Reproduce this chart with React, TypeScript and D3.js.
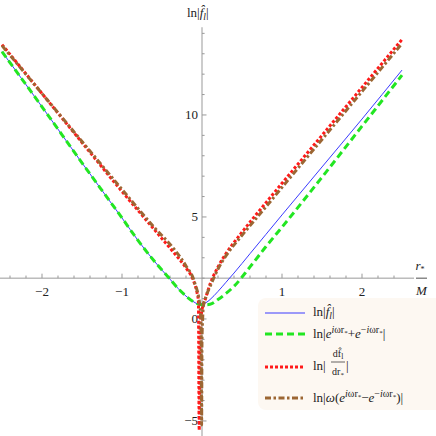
import React from "react";
import * as d3 from "d3";

const W = 436;
const H = 436;

// r*/M grid for ln|f_l| and ln|e^{iωr}+e^{-iωr}|
const rGrid = [-2.5, -2, -1.5, -1, -0.8, -0.6, -0.4, -0.3, -0.2, -0.1, -0.05, 0, 0.05, 0.1, 0.2, 0.3, 0.4, 0.6, 0.8, 1, 1.5, 2, 2.5];
const lnF = [13.1, 10.4, 7.65, 4.95, 3.85, 2.85, 1.95, 1.5, 1.12, 0.83, 0.74, 0.74, 0.8, 0.95, 1.35, 1.8, 2.25, 3.2, 4.15, 5.1, 7.45, 9.8, 12.2];
const lnCos = [13.1, 10.4, 7.65, 4.95, 3.85, 2.85, 1.95, 1.5, 1.12, 0.83, 0.74, 0.7, 0.7, 0.72, 0.95, 1.25, 1.6, 2.55, 3.55, 4.5, 6.95, 9.45, 11.95];

// ln|df/dr*|
const rRed = [-2.5, -2, -1.5, -1, -0.6, -0.38, -0.2, -0.11, -0.06, -0.045, -0.035, -0.025, -0.01, 0.0, 0.04, 0.1, 0.2, 0.3, 0.5, 0.8, 1, 1.5, 2, 2.5];
const lnDf = [13.45, 11.05, 8.65, 6.25, 4.4, 3.38, 2.5, 1.91, 1.25, 0.9, -5.45, -0.4, 0.2, 0.45, 0.95, 1.7, 2.55, 3.2, 4.25, 5.7, 6.65, 9.0, 11.35, 13.7];

// ln|ω(e^{iωr}-e^{-iωr})|
const rBrown = [-2.5, -2, -1.5, -1, -0.6, -0.34, -0.2, -0.09, -0.025, -0.012, -0.005, 0.0, 0.008, 0.016, 0.05, 0.1, 0.2, 0.3, 0.5, 0.8, 1, 1.5, 2, 2.5];
const lnSin = [13.4, 11.05, 8.7, 6.35, 4.5, 3.38, 2.6, 1.76, 0.59, -0.5, -5.2, -1.0, 0.0, 0.6, 1.1, 1.58, 2.45, 3.1, 4.1, 5.5, 6.45, 8.8, 11.15, 13.5];

const xMajor = [-2, -1, 1, 2];
const yMajor = [-5, 0, 5, 10];
const xMinor = [-2.4, -2.2, -1.8, -1.6, -1.4, -1.2, -0.8, -0.6, -0.4, -0.2, 0.2, 0.4, 0.6, 0.8, 1.2, 1.4, 1.6, 1.8, 2.2, 2.4];
const yMinor = [-4, -3, -2, -1, 1, 2, 3, 4, 6, 7, 8, 9, 11, 12, 13, 14];

const BLUE = "#3a3aff";
const GREEN = "#22e622";
const RED = "#ff1a1a";
const BROWN = "#9c6633";
const AXIS = "#999999";
const FONT = "Liberation Serif, Times New Roman, DejaVu Serif, serif";
const TXT: React.CSSProperties = { fontFamily: FONT };

export default function App() {
  const x = d3.scaleLinear().domain([-2.5, 2.5]).range([2, 402]);
  const y = d3.scaleLinear().domain([-5.6, 14.3]).range([433.2, 27.24]);
  const line = d3
    .line<[number, number]>()
    .x((d) => x(d[0]))
    .y((d) => y(d[1]))
    .curve(d3.curveMonotoneX);

  const zip = (a: number[], b: number[]) => a.map((v, i) => [v, b[i]] as [number, number]);

  const y0 = y(2);
  const x0 = x(0);

  return (
    <svg width={W} height={H} style={{ position: "absolute", left: 0, top: 0, background: "#fff", fontFamily: FONT }}>
      {/* axes */}
      <line x1={0} x2={414} y1={y0} y2={y0} stroke={AXIS} strokeWidth={1} />
      <line x1={x0} x2={x0} y1={y(14.3)} y2={H} stroke={AXIS} strokeWidth={1} />
      {xMajor.map((t) => (
        <g key={"xm" + t}>
          <line x1={x(t)} x2={x(t)} y1={y0} y2={y0 - 4.5} stroke={AXIS} />
          <text x={x(t)} y={y0 + 18} fontSize={13} textAnchor="middle" fill="#222" style={TXT}>
            {t < 0 ? "\u2212" + Math.abs(t) : String(t)}
          </text>
        </g>
      ))}
      {xMinor.map((t) => (
        <line key={"xn" + t} x1={x(t)} x2={x(t)} y1={y0} y2={y0 - 2.6} stroke={AXIS} />
      ))}
      {yMajor.map((t) => (
        <g key={"ym" + t}>
          <line x1={x0} x2={x0 + 4.5} y1={y(t)} y2={y(t)} stroke={AXIS} />
          <text x={x0 - 4} y={y(t) + 4.5} fontSize={13} textAnchor="end" fill="#222" style={TXT}>
            {t < 0 ? "\u2212" + Math.abs(t) : String(t)}
          </text>
        </g>
      ))}
      {yMinor.map((t) => (
        <line key={"yn" + t} x1={x0} x2={x0 + 2.6} y1={y(t)} y2={y(t)} stroke={AXIS} />
      ))}

      {/* curves */}
      <path d={line(zip(rGrid, lnF)) || ""} fill="none" stroke={BLUE} strokeWidth={1} />
      <path d={line(zip(rGrid, lnCos)) || ""} fill="none" stroke={GREEN} strokeWidth={3} strokeDasharray="7,4" />
      <path d={line(zip(rRed, lnDf)) || ""} fill="none" stroke={RED} strokeWidth={3} strokeDasharray="3,2" />
      <path d={line(zip(rBrown, lnSin)) || ""} fill="none" stroke={BROWN} strokeWidth={3} strokeDasharray="6,2.5,2.5,2.5" />

      {/* axis labels */}
      <text x={187} y={17} fontSize={13} fill="#222" style={TXT}>
        {"ln|"}
        <tspan fontStyle="italic">{"f\u0302"}</tspan>
        <tspan fontStyle="italic" fontSize={9.5} dy={3}>l</tspan>
        <tspan dy={-3}>{"|"}</tspan>
      </text>
      <text x={420} y={270} fontSize={13} textAnchor="middle" fill="#222" style={TXT}>
        <tspan fontStyle="italic">r</tspan>
        <tspan fontSize={8} dy={2}>*</tspan>
      </text>
      <line x1={416} x2={427} y1={y0} y2={y0} stroke="#222" strokeWidth={0.8} />
      <text x={421.5} y={295} fontSize={13} textAnchor="middle" fontStyle="italic" fill="#222" style={TXT}>M</text>

      {/* legend */}
      <rect x={258} y={298} width={190} height={112} rx={8} fill="#fdf8f2" />
      <line x1={265} x2={305} y1={313} y2={313} stroke={BLUE} strokeWidth={1} />
      <text x={313} y={316} fontSize={13} fill="#222" style={TXT}>
        {"ln|"}
        <tspan fontStyle="italic">{"f\u0302"}</tspan>
        <tspan fontStyle="italic" fontSize={9.5} dy={3}>l</tspan>
        <tspan dy={-3}>{"|"}</tspan>
      </text>

      <line x1={265} x2={305} y1={334} y2={334} stroke={GREEN} strokeWidth={3} strokeDasharray="7,4" />
      <text x={313} y={338} fontSize={13} fill="#222" style={TXT}>
        {"ln|"}
        <tspan fontStyle="italic">e</tspan>
        <tspan fontSize={10} dy={-5}>
          <tspan fontStyle="italic">i</tspan>
          {"ωr"}
        </tspan>
        <tspan fontSize={7} dy={1.5}>*</tspan>
        <tspan dy={3.5}>+</tspan>
        <tspan fontStyle="italic">e</tspan>
        <tspan fontSize={10} dy={-5}>
          {"\u2212"}
          <tspan fontStyle="italic">i</tspan>
          {"ωr"}
        </tspan>
        <tspan fontSize={7} dy={1.5}>*</tspan>
        <tspan dy={3.5}>{"|"}</tspan>
      </text>

      <line x1={265} x2={305} y1={367} y2={367} stroke={RED} strokeWidth={3} strokeDasharray="3,2" />
      <text x={313} y={370} fontSize={13} fill="#222" style={TXT}>{"ln|"}</text>
      <text x={338} y={357} fontSize={10} textAnchor="middle" fill="#222" style={TXT}>
        {"df\u0302"}
        <tspan fontSize={7.5} dy={2}>l</tspan>
      </text>
      <line x1={331} x2={345} y1={362} y2={362} stroke="#222" strokeWidth={0.7} />
      <text x={338} y={375} fontSize={10} textAnchor="middle" fill="#222" style={TXT}>
        {"dr"}
        <tspan fontSize={7} dy={1.5}>*</tspan>
      </text>
      <text x={346} y={370} fontSize={13} fill="#222" style={TXT}>{"|"}</text>

      <line x1={265} x2={305} y1={398} y2={398} stroke={BROWN} strokeWidth={3} strokeDasharray="6,2.5,2.5,2.5" />
      <text x={313} y={402} fontSize={13} fill="#222" style={TXT}>
        {"ln|"}
        <tspan fontStyle="italic">ω</tspan>
        {"("}
        <tspan fontStyle="italic">e</tspan>
        <tspan fontSize={10} dy={-5}>
          <tspan fontStyle="italic">i</tspan>
          {"ωr"}
        </tspan>
        <tspan fontSize={7} dy={1.5}>*</tspan>
        <tspan dy={3.5}>{"\u2212"}</tspan>
        <tspan fontStyle="italic">e</tspan>
        <tspan fontSize={10} dy={-5}>
          {"\u2212"}
          <tspan fontStyle="italic">i</tspan>
          {"ωr"}
        </tspan>
        <tspan fontSize={7} dy={1.5}>*</tspan>
        <tspan dy={3.5}>{")|"}</tspan>
      </text>
    </svg>
  );
}
